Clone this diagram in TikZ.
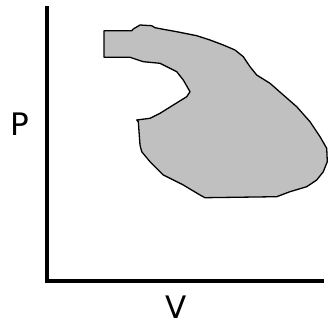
\documentclass[tikz,border=0pt]{standalone}
\usepackage{fontspec}
\setmainfont{DejaVu Sans}
\definecolor{regiongray}{RGB}{192,192,192}
\tikzset{
  axisline/.style={line width=4pt, line cap=rect},
  region/.style={draw=black, line width=1.3pt, fill=regiongray, line join=round},
  axlabel/.style={font=\fontsize{31}{31}\selectfont, inner sep=0pt}
}
\begin{document}
\begin{tikzpicture}[x=1pt,y=-1pt]
\useasboundingbox (0,0) rectangle (328,326);
\coordinate (top) at (47,8);
\coordinate (origin) at (47,280.5);
\coordinate (right) at (322,280.5);
\draw[axisline] (top) -- (origin) -- (right);
\node[axlabel] (P) at (19.5,124.5) {P};
\node[axlabel] (V) at (176,307.5) {V};
\draw[region] (104,30.7) -- (131.7,30.7) -- (133.3,29) -- (140,25) -- (151.7,25.7) -- (155,27.7) -- (161.7,29) -- (176.7,31.7) -- (196.7,35.7) -- (210,40) -- (223.3,45) -- (235,50) -- (243.3,56.7) -- (250,66.7) -- (256.7,75) -- (270,83.3) -- (283.3,95) -- (296.7,106.7) -- (310,121.7) -- (320,136.7) -- (326.7,148.3) -- (327.3,161.7) -- (323.3,171.7) -- (316.7,180) -- (306.7,186.7) -- (290,191.7) -- (276.7,196.7) -- (205,197.7) -- (200,195) -- (183.3,185) -- (163.3,175) -- (150,161.7) -- (141.7,151.7) -- (140,145) -- (138.3,121.7) -- (136.7,120) -- (150,118.3) -- (160,113.3) -- (173.3,105) -- (186.7,96.7) -- (190,91.7) -- (183.3,80) -- (176.7,71.7) -- (166.7,66.7) -- (160,63.3) -- (143.3,61.7) -- (130,57.3) -- (104,57.3) -- cycle;
\end{tikzpicture}
\end{document}
